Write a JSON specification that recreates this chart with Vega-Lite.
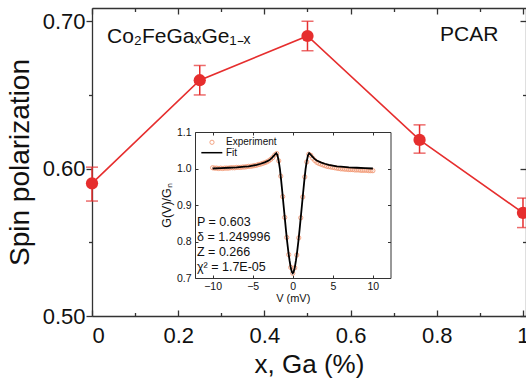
{
  "$schema": "https://vega.github.io/schema/vega-lite/v6.json",
  "width": 434,
  "height": 308,
  "autosize": "none",
  "padding": {"left": 92, "top": 8, "right": 0, "bottom": 66},
  "background": "white",
  "config": {
    "font": "Liberation Sans",
    "view": {"stroke": null},
    "axis": {"grid": false, "domainColor": "#333", "tickColor": "#333", "labelColor": "#111", "titleColor": "#111", "labelFont": "Liberation Sans", "titleFont": "Liberation Sans", "titleFontWeight": "normal", "domainWidth": 1.3, "tickWidth": 1.3}
  },
  "datasets": {
    "pol": [
      {"x": 0, "p": 0.59, "lo": 0.578, "hi": 0.601},
      {"x": 0.25, "p": 0.66, "lo": 0.65, "hi": 0.67},
      {"x": 0.5, "p": 0.69, "lo": 0.68, "hi": 0.70},
      {"x": 0.76, "p": 0.6195, "lo": 0.6105, "hi": 0.6297},
      {"x": 1.0, "p": 0.57, "lo": 0.56, "hi": 0.58}
    ],
    "fit": [
      {"V": -10, "G": 1.000}, {"V": -9, "G": 1.001}, {"V": -8, "G": 1.002}, {"V": -7, "G": 1.003},
      {"V": -6, "G": 1.005}, {"V": -5.5, "G": 1.006}, {"V": -5, "G": 1.008}, {"V": -4.5, "G": 1.010},
      {"V": -4, "G": 1.013}, {"V": -3.5, "G": 1.017}, {"V": -3, "G": 1.022}, {"V": -2.8, "G": 1.025},
      {"V": -2.6, "G": 1.029}, {"V": -2.4, "G": 1.034}, {"V": -2.2, "G": 1.039}, {"V": -2.05, "G": 1.042},
      {"V": -1.9, "G": 1.036}, {"V": -1.75, "G": 1.020}, {"V": -1.6, "G": 0.998}, {"V": -1.45, "G": 0.968},
      {"V": -1.3, "G": 0.935}, {"V": -1.15, "G": 0.900}, {"V": -1.0, "G": 0.866}, {"V": -0.85, "G": 0.832},
      {"V": -0.7, "G": 0.800}, {"V": -0.55, "G": 0.772}, {"V": -0.4, "G": 0.748}, {"V": -0.25, "G": 0.728},
      {"V": -0.1, "G": 0.716}, {"V": 0, "G": 0.713}, {"V": 0.1, "G": 0.716}, {"V": 0.25, "G": 0.728},
      {"V": 0.4, "G": 0.748}, {"V": 0.55, "G": 0.772}, {"V": 0.7, "G": 0.800}, {"V": 0.85, "G": 0.832},
      {"V": 1.0, "G": 0.866}, {"V": 1.15, "G": 0.900}, {"V": 1.3, "G": 0.935}, {"V": 1.45, "G": 0.968},
      {"V": 1.6, "G": 0.998}, {"V": 1.75, "G": 1.020}, {"V": 1.9, "G": 1.036}, {"V": 2.05, "G": 1.042},
      {"V": 2.2, "G": 1.039}, {"V": 2.4, "G": 1.034}, {"V": 2.6, "G": 1.029}, {"V": 2.8, "G": 1.025},
      {"V": 3, "G": 1.022}, {"V": 3.5, "G": 1.017}, {"V": 4, "G": 1.013}, {"V": 4.5, "G": 1.010},
      {"V": 5, "G": 1.008}, {"V": 5.5, "G": 1.006}, {"V": 6, "G": 1.005}, {"V": 7, "G": 1.003},
      {"V": 8, "G": 1.002}, {"V": 9, "G": 1.001}, {"V": 10, "G": 1.000}
    ],
    "exp": [
      {"V": -10, "G": 1.002}, {"V": -9.75, "G": 1.001}, {"V": -9.5, "G": 1.001}, {"V": -9.25, "G": 1.000},
      {"V": -9, "G": 1.001}, {"V": -8.75, "G": 1.000}, {"V": -8.5, "G": 1.001}, {"V": -8.25, "G": 1.001},
      {"V": -8, "G": 1.001}, {"V": -7.75, "G": 1.002}, {"V": -7.5, "G": 1.002}, {"V": -7.25, "G": 1.002},
      {"V": -7, "G": 1.003}, {"V": -6.75, "G": 1.003}, {"V": -6.5, "G": 1.003}, {"V": -6.25, "G": 1.004},
      {"V": -6, "G": 1.004}, {"V": -5.75, "G": 1.005}, {"V": -5.5, "G": 1.006}, {"V": -5.25, "G": 1.006},
      {"V": -5, "G": 1.007}, {"V": -4.75, "G": 1.008}, {"V": -4.5, "G": 1.009}, {"V": -4.25, "G": 1.011},
      {"V": -4, "G": 1.012}, {"V": -3.75, "G": 1.014}, {"V": -3.5, "G": 1.016}, {"V": -3.25, "G": 1.018},
      {"V": -3, "G": 1.021}, {"V": -2.75, "G": 1.025}, {"V": -2.5, "G": 1.030}, {"V": -2.25, "G": 1.037},
      {"V": -2, "G": 1.041}, {"V": -1.75, "G": 1.021}, {"V": -1.5, "G": 0.979}, {"V": -1.25, "G": 0.923},
      {"V": -1, "G": 0.866}, {"V": -0.75, "G": 0.811}, {"V": -0.5, "G": 0.764}, {"V": -0.25, "G": 0.729},
      {"V": 0, "G": 0.713}, {"V": 0.25, "G": 0.728}, {"V": 0.5, "G": 0.763}, {"V": 0.75, "G": 0.810},
      {"V": 1, "G": 0.865}, {"V": 1.25, "G": 0.922}, {"V": 1.5, "G": 0.977}, {"V": 1.75, "G": 1.018},
      {"V": 2, "G": 1.039}, {"V": 2.25, "G": 1.036}, {"V": 2.5, "G": 1.028}, {"V": 2.75, "G": 1.022},
      {"V": 3, "G": 1.017}, {"V": 3.25, "G": 1.014}, {"V": 3.5, "G": 1.012}, {"V": 3.75, "G": 1.010},
      {"V": 4, "G": 1.008}, {"V": 4.25, "G": 1.006}, {"V": 4.5, "G": 1.005}, {"V": 4.75, "G": 1.004},
      {"V": 5, "G": 1.003}, {"V": 5.25, "G": 1.002}, {"V": 5.5, "G": 1.001}, {"V": 5.75, "G": 1.000},
      {"V": 6, "G": 0.999}, {"V": 6.25, "G": 0.999}, {"V": 6.5, "G": 0.998}, {"V": 6.75, "G": 0.998},
      {"V": 7, "G": 0.997}, {"V": 7.25, "G": 0.997}, {"V": 7.5, "G": 0.997}, {"V": 7.75, "G": 0.996},
      {"V": 8, "G": 0.996}, {"V": 8.25, "G": 0.996}, {"V": 8.5, "G": 0.995}, {"V": 8.75, "G": 0.995},
      {"V": 9, "G": 0.995}, {"V": 9.25, "G": 0.995}, {"V": 9.5, "G": 0.994}, {"V": 9.75, "G": 0.994},
      {"V": 10, "G": 0.994}
    ]
  },
  "layer": [
    {
      "data": {"name": "pol"},
      "layer": [
        {
          "mark": {"type": "line", "color": "#e62e2e", "strokeWidth": 1.6},
          "encoding": {
            "x": {"field": "x", "type": "quantitative", "scale": {"domain": [0, 1.007], "nice": false, "zero": false},
              "axis": {"orient": "bottom", "values": [0, 0.2, 0.4, 0.6, 0.8, 1], "format": "~g", "tickSize": -6, "labelPadding": 15, "labelFontSize": 22, "title": "x, Ga (%)", "titleFontSize": 26, "titlePadding": 5}},
            "y": {"field": "p", "type": "quantitative", "scale": {"domain": [0.5, 0.709], "nice": false, "zero": false},
              "axis": {"orient": "left", "values": [0.5, 0.6, 0.7], "format": ".2f", "tickSize": 6, "labelPadding": 1, "labelFontSize": 22, "title": "Spin polarization", "titleFontSize": 28, "titlePadding": 8}}
          }
        },
        {
          "mark": {"type": "rule", "color": "#e62e2e", "strokeWidth": 1.5},
          "encoding": {
            "x": {"field": "x", "type": "quantitative", "axis": {"orient": "bottom", "values": [0.1, 0.3, 0.5, 0.7, 0.9], "tickSize": -3.5, "labels": false, "domain": false, "title": null}},
            "y": {"field": "lo", "type": "quantitative", "axis": {"orient": "left", "values": [0.55, 0.65], "tickSize": 3.5, "labels": false, "domain": false, "title": null}},
            "y2": {"field": "hi"}
          }
        },
        {
          "mark": {"type": "tick", "orient": "horizontal", "size": 12, "thickness": 1.5, "color": "#e62e2e"},
          "encoding": {
            "x": {"field": "x", "type": "quantitative", "axis": {"orient": "top", "values": [0, 0.2, 0.4, 0.6, 0.8, 1], "tickSize": -6, "labels": false, "title": null}},
            "y": {"field": "lo", "type": "quantitative", "axis": {"orient": "right", "values": [0.5, 0.6, 0.7], "tickSize": -6, "labels": false, "title": null}}
          }
        },
        {
          "mark": {"type": "tick", "orient": "horizontal", "size": 12, "thickness": 1.5, "color": "#e62e2e"},
          "encoding": {
            "x": {"field": "x", "type": "quantitative", "axis": {"orient": "top", "values": [0.1, 0.3, 0.5, 0.7, 0.9], "tickSize": -3.5, "labels": false, "domain": false, "title": null}},
            "y": {"field": "hi", "type": "quantitative", "axis": {"orient": "right", "values": [0.55, 0.65], "tickSize": -3.5, "labels": false, "domain": false, "title": null}}
          }
        },
        {
          "mark": {"type": "circle", "size": 150, "color": "#e62e2e", "opacity": 1},
          "encoding": {
            "x": {"field": "x", "type": "quantitative", "axis": null},
            "y": {"field": "p", "type": "quantitative", "axis": null}
          }
        },
        {
          "data": {"values": [{"t": "Co₂FeGaₓGe₁₋ₓ"}]},
          "mark": {"type": "text", "align": "left", "baseline": "alphabetic", "fontSize": 21, "color": "#111"},
          "encoding": {
            "x": {"datum": 0.0348, "type": "quantitative", "axis": null},
            "y": {"datum": 0.6854, "type": "quantitative", "axis": null},
            "text": {"field": "t"}
          }
        },
        {
          "data": {"values": [{"t": "PCAR"}]},
          "mark": {"type": "text", "align": "left", "baseline": "alphabetic", "fontSize": 21, "color": "#111"},
          "encoding": {
            "x": {"datum": 0.8074, "type": "quantitative", "axis": null},
            "y": {"datum": 0.6868, "type": "quantitative", "axis": null},
            "text": {"field": "t"}
          }
        }
      ],
      "resolve": {"axis": {"x": "independent", "y": "independent"}}
    },
    {
      "layer": [
        {
          "data": {"name": "exp"},
          "mark": {"type": "point", "shape": "circle", "filled": false, "color": "#f29a76", "size": 18, "strokeWidth": 0.9, "opacity": 1},
          "encoding": {
            "x": {"field": "V", "type": "quantitative", "scale": {"domain": [-12.2, 12.2], "range": [103, 298.5], "nice": false, "zero": false},
              "axis": {"orient": "bottom", "offset": -38, "values": [-10, -5, 0, 5, 10], "tickSize": -3, "labelPadding": 6, "labelFontSize": 10.5, "title": "V (mV)", "titleFontSize": 11, "titlePadding": 1, "domainWidth": 1, "tickWidth": 1}},
            "y": {"field": "G", "type": "quantitative", "scale": {"domain": [0.7, 1.1], "range": [270, 124], "nice": false, "zero": false},
              "axis": {"orient": "left", "offset": -103, "values": [0.7, 0.8, 0.9, 1.0, 1.1], "format": ".1f", "tickSize": -3, "labelPadding": 7, "labelFontSize": 10.5, "title": "G(V)/Gₙ", "titleFontSize": 12.5, "titlePadding": 3, "domainWidth": 1, "tickWidth": 1}}
          }
        },
        {
          "data": {"name": "fit"},
          "mark": {"type": "line", "color": "#000", "strokeWidth": 1.8},
          "encoding": {
            "x": {"field": "V", "type": "quantitative", "axis": {"orient": "top", "offset": -124, "values": [-10, -5, 0, 5, 10], "tickSize": -3, "labels": false, "title": null, "domainWidth": 1, "tickWidth": 1}},
            "y": {"field": "G", "type": "quantitative", "axis": {"orient": "right", "offset": -135.5, "values": [0.7, 0.8, 0.9, 1.0, 1.1], "tickSize": -3, "labels": false, "title": null, "domainWidth": 1, "tickWidth": 1}}
          }
        },
        {
          "data": {"values": [{}]},
          "mark": {"type": "point", "shape": "circle", "filled": false, "color": "#f29a76", "size": 18, "strokeWidth": 0.9, "opacity": 1},
          "encoding": {
            "x": {"datum": -10.08, "type": "quantitative", "axis": null},
            "y": {"datum": 1.0718, "type": "quantitative", "axis": null}
          }
        },
        {
          "data": {"values": [{}]},
          "mark": {"type": "rule", "color": "#000", "strokeWidth": 1.5},
          "encoding": {
            "x": {"datum": -11.41, "type": "quantitative", "axis": null},
            "x2": {"datum": -8.79},
            "y": {"datum": 1.0433, "type": "quantitative", "axis": null}
          }
        },
        {
          "data": {"values": [{"t": "Experiment"}]},
          "mark": {"type": "text", "align": "left", "baseline": "middle", "fontSize": 10, "color": "#111"},
          "encoding": {
            "x": {"datum": -8.33, "type": "quantitative", "axis": null},
            "y": {"datum": 1.0718, "type": "quantitative", "axis": null},
            "text": {"field": "t"}
          }
        },
        {
          "data": {"values": [{"t": "Fit"}]},
          "mark": {"type": "text", "align": "left", "baseline": "middle", "fontSize": 10, "color": "#111"},
          "encoding": {
            "x": {"datum": -8.33, "type": "quantitative", "axis": null},
            "y": {"datum": 1.0433, "type": "quantitative", "axis": null},
            "text": {"field": "t"}
          }
        },
        {
          "data": {"values": [{"t": "P = 0.603\nδ = 1.249996\nZ = 0.266\nχ² = 1.7E-05"}]},
          "mark": {"type": "text", "align": "left", "baseline": "middle", "fontSize": 12.5, "lineBreak": "\n", "lineHeight": 15, "color": "#111"},
          "encoding": {
            "x": {"datum": -11.95, "type": "quantitative", "axis": null},
            "y": {"datum": 0.854, "type": "quantitative", "axis": null},
            "text": {"field": "t"}
          }
        }
      ],
      "resolve": {"axis": {"x": "independent", "y": "independent"}}
    }
  ],
  "resolve": {"scale": {"x": "independent", "y": "independent"}, "axis": {"x": "independent", "y": "independent"}}
}
